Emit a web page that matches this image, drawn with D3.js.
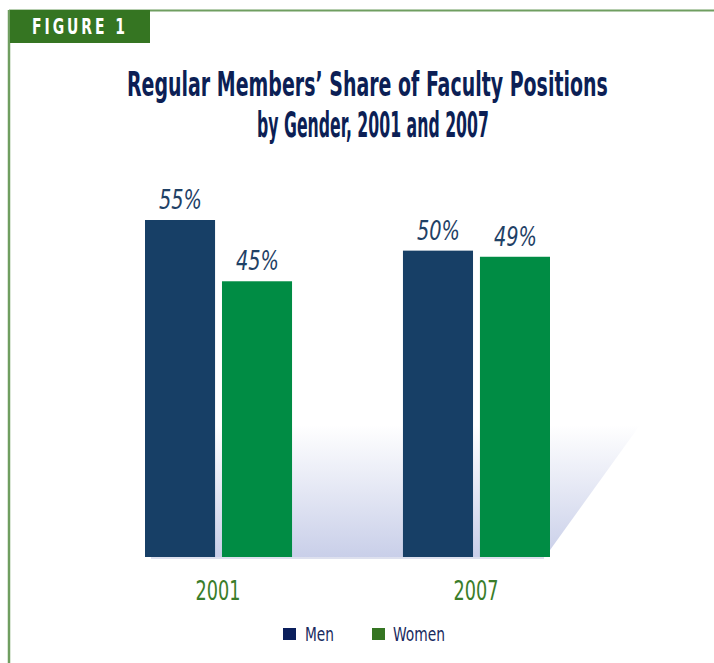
<!DOCTYPE html>
<html>
<head>
<meta charset="utf-8">
<script src="https://cdn.jsdelivr.net/npm/d3@7"></script>
<style>
  body { margin: 0; background: #fff; }
  text { font-family: "Liberation Sans Narrow", "DejaVu Sans Condensed", sans-serif; }
</style>
</head>
<body>
<div id="chart"></div>
<script>
// data
var years = ["2001", "2007"];
var genders = ["Men", "Women"];
var menValues = [55, 50];
var womenValues = [45, 49];
var valueLabels = [["55%", "45%"], ["50%", "49%"]];

var svgWidth = 714;
var svgHeight = 663;

var colors = { Men: "#173f66", Women: "#008c44" };
var legendColors = { Men: "#0b1f5c", Women: "#357522" };

var svg = d3.select("#chart").append("svg")
  .attr("width", svgWidth)
  .attr("height", svgHeight);

// squeeze a text horizontally so it spans the given width (the fonts here are wider than the original)
function fitText(sel, x, y, width) {
  sel.each(function(d, i) {
    var node = this;
    var w = node.getComputedTextLength();
    var tx = typeof x === "function" ? x(d, i) : x;
    var ty = typeof y === "function" ? y(d, i) : y;
    var wd = typeof width === "function" ? width(d, i) : width;
    d3.select(node).attr("transform", `translate(${tx},${ty}) scale(${wd / w},1)`);
  });
}

// frame lines
svg.append("line")
  .attr("x1", 9).attr("x2", svgWidth).attr("y1", 10.5).attr("y2", 10.5)
  .attr("stroke", "#6f9e60").attr("stroke-width", 2);
svg.append("line")
  .attr("x1", 9).attr("x2", 9).attr("y1", 10).attr("y2", svgHeight)
  .attr("stroke", "#6f9e60").attr("stroke-width", 2.5);

// figure tab
svg.append("rect")
  .attr("x", 10).attr("y", 10).attr("width", 140).attr("height", 33)
  .attr("fill", "#357522");
svg.append("text")
  .attr("fill", "#fff")
  .attr("font-size", 21)
  .attr("font-weight", "bold")
  .attr("letter-spacing", 4)
  .text("FIGURE 1")
  .call(fitText, 32, 34, 96);

// title
var title = svg.append("g")
  .attr("fill", "#0c1f55")
  .attr("font-weight", "bold");
title.append("text")
  .attr("font-size", 34)
  .text("Regular Members\u2019 Share of Faculty Positions")
  .call(fitText, 127, 96, 481);
title.append("text")
  .attr("font-size", 35)
  .text("by Gender, 2001 and 2007")
  .call(fitText, 257, 137, 232);

// scales
var x0 = d3.scaleBand().domain(years).range([145, 550]).paddingInner(0.43);
var x1 = d3.scaleBand().domain(genders).range([0, x0.bandwidth()]).paddingInner(0.09);
var y = d3.scaleLinear().domain([0, 55]).range([557, 220]);

// floor shadow
var defs = svg.append("defs");
var grad = defs.append("linearGradient")
  .attr("id", "floor").attr("x1", 0).attr("x2", 0).attr("y1", 0).attr("y2", 1);
grad.append("stop").attr("offset", "0%").attr("stop-color", "#ffffff");
grad.append("stop").attr("offset", "100%").attr("stop-color", "#c9cfe9");

var floorTop = 425;
var lastX = x0.range()[1];
svg.append("path")
  .attr("d", "M" + (x0.range()[0] + 5) + "," + floorTop +
    "L" + (lastX + 90) + "," + floorTop +
    "L" + (lastX - 5) + "," + y(0) +
    "L" + (x0.range()[0] + 5) + "," + y(0) + "Z")
  .attr("fill", "url(#floor)");
svg.append("rect")
  .attr("x", x0.range()[0] + 6).attr("y", y(0))
  .attr("width", lastX - x0.range()[0] - 12).attr("height", 2)
  .attr("fill", "#dde0ee");

var rows = years.map(function(yr, i) {
  return { year: yr, values: [
    { gender: "Men", value: menValues[i], label: valueLabels[i][0] },
    { gender: "Women", value: womenValues[i], label: valueLabels[i][1] }
  ] };
});

var groups = svg.selectAll(".group")
  .data(rows)
  .enter()
  .append("g")
  .attr("class", "group")
  .attr("transform", d => `translate(${x0(d.year)},0)`);

groups.selectAll("rect")
  .data(d => d.values)
  .enter()
  .append("rect")
  .attr("x", d => x1(d.gender))
  .attr("width", x1.bandwidth())
  .attr("y", d => y(d.value))
  .attr("height", d => y(0) - y(d.value))
  .attr("fill", d => colors[d.gender]);

groups.selectAll(".val")
  .data(d => d.values)
  .enter()
  .append("text")
  .attr("class", "val")
  .attr("font-size", 26)
  .attr("font-style", "italic")
  .attr("fill", "#1f4166")
  .text(d => d.label)
  .call(fitText, d => x1(d.gender) + x1.bandwidth() / 2 - 21, d => y(d.value) - 11, 43);

// category labels
svg.selectAll(".cat")
  .data(years)
  .enter()
  .append("text")
  .attr("class", "cat")
  .attr("font-size", 26)
  .attr("fill", "#3a7d2a")
  .text(d => d)
  .call(fitText, d => x0(d) + x0.bandwidth() / 2 - 23, 600, 45);

// legend
var legendX = [283, 372];
var legendW = [29, 52];
var legend = svg.selectAll(".legend")
  .data(genders)
  .enter()
  .append("g")
  .attr("class", "legend")
  .attr("transform", (d, i) => `translate(${legendX[i]},628)`);
legend.append("rect")
  .attr("width", 13).attr("height", 12)
  .attr("fill", d => legendColors[d]);
legend.append("text")
  .attr("font-size", 19)
  .attr("fill", "#1a2a5e")
  .text(d => d)
  .call(fitText, (d, i) => i === 0 ? 22 : 21, 13, (d, i) => legendW[i]);
</script>
</body>
</html>
